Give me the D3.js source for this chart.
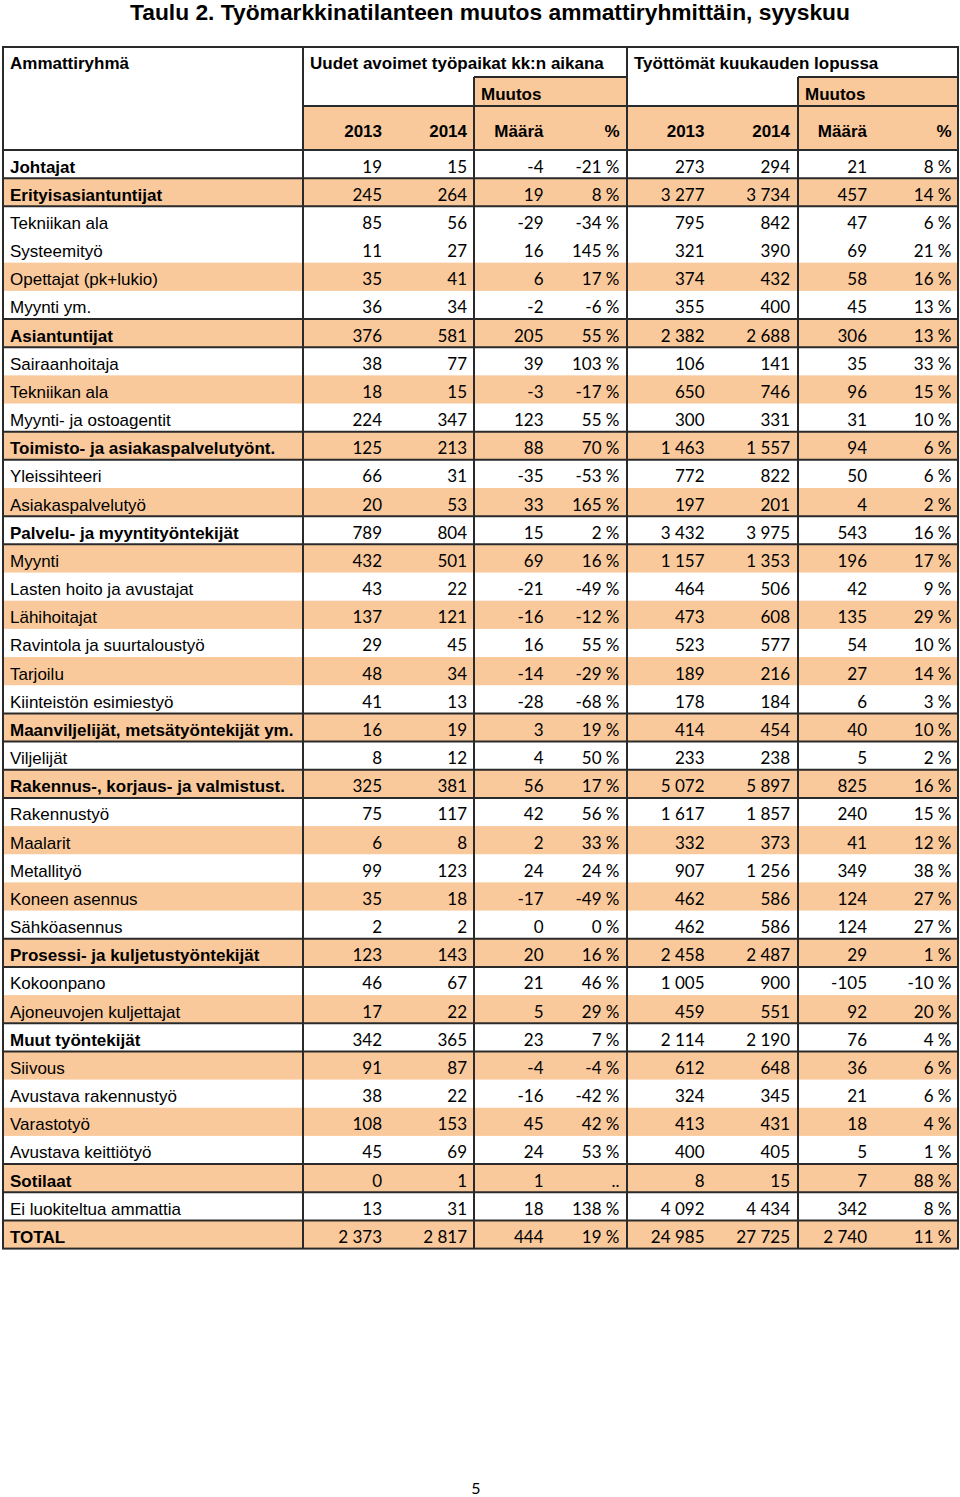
<!DOCTYPE html>
<html>
<head>
<meta charset="utf-8">
<script src="https://cdn.jsdelivr.net/npm/d3@7/dist/d3.min.js"></script>
<style>
  html, body { margin: 0; padding: 0; background: #fff; }
  svg { display: block; }
</style>
</head>
<body>
<svg id="chart" width="960" height="1497"></svg>
<script>
// ---------- DATA ----------
const title = "Taulu 2. Työmarkkinatilanteen muutos ammattiryhmittäin, syyskuu";
const pageNumber = "5";

const headerGroups = ["Uudet avoimet työpaikat kk:n aikana", "Työttömät kuukauden lopussa"];
const headerFirst = "Ammattiryhmä";
const headerChange = "Muutos";
const headerCols = ["2013", "2014", "Määrä", "%", "2013", "2014", "Määrä", "%"];

const categories = [
  "Johtajat", "Erityisasiantuntijat", "Tekniikan ala", "Systeemityö", "Opettajat (pk+lukio)",
  "Myynti ym.", "Asiantuntijat", "Sairaanhoitaja", "Tekniikan ala", "Myynti- ja ostoagentit",
  "Toimisto- ja asiakaspalvelutyönt.", "Yleissihteeri", "Asiakaspalvelutyö",
  "Palvelu- ja myyntityöntekijät", "Myynti", "Lasten hoito ja avustajat", "Lähihoitajat",
  "Ravintola ja suurtaloustyö", "Tarjoilu", "Kiinteistön esimiestyö",
  "Maanviljelijät, metsätyöntekijät ym.", "Viljelijät", "Rakennus-, korjaus- ja valmistust.",
  "Rakennustyö", "Maalarit", "Metallityö", "Koneen asennus", "Sähköasennus",
  "Prosessi- ja kuljetustyöntekijät", "Kokoonpano", "Ajoneuvojen kuljettajat",
  "Muut työntekijät", "Siivous", "Avustava rakennustyö", "Varastotyö", "Avustava keittiötyö",
  "Sotilaat", "Ei luokiteltua ammattia", "TOTAL"
];
// 0 = main group (bold), 1 = sub-group
const level = [0,0,1,1,1,1,0,1,1,1,0,1,1,0,1,1,1,1,1,1,0,1,0,1,1,1,1,1,0,1,1,0,1,1,1,1,0,1,0];

const vacancies2013 = [19,245,85,11,35,36,376,38,18,224,125,66,20,789,432,43,137,29,48,41,16,8,325,75,6,99,35,2,123,46,17,342,91,38,108,45,0,13,2373];
const vacancies2014 = [15,264,56,27,41,34,581,77,15,347,213,31,53,804,501,22,121,45,34,13,19,12,381,117,8,123,18,2,143,67,22,365,87,22,153,69,1,31,2817];
const vacanciesChange = [-4,19,-29,16,6,-2,205,39,-3,123,88,-35,33,15,69,-21,-16,16,-14,-28,3,4,56,42,2,24,-17,0,20,21,5,23,-4,-16,45,24,1,18,444];
const vacanciesPct = [-21,8,-34,145,17,-6,55,103,-17,55,70,-53,165,2,16,-49,-12,55,-29,-68,19,50,17,56,33,24,-49,0,16,46,29,7,-4,-42,42,53,null,138,19];

const unemployed2013 = [273,3277,795,321,374,355,2382,106,650,300,1463,772,197,3432,1157,464,473,523,189,178,414,233,5072,1617,332,907,462,462,2458,1005,459,2114,612,324,413,400,8,4092,24985];
const unemployed2014 = [294,3734,842,390,432,400,2688,141,746,331,1557,822,201,3975,1353,506,608,577,216,184,454,238,5897,1857,373,1256,586,586,2487,900,551,2190,648,345,431,405,15,4434,27725];
const unemployedChange = [21,457,47,69,58,45,306,35,96,31,94,50,4,543,196,42,135,54,27,6,40,5,825,240,41,349,124,124,29,-105,92,76,36,21,18,5,7,342,2740];
const unemployedPct = [8,14,6,21,16,13,13,33,15,10,6,6,2,16,17,9,29,10,14,3,10,2,16,15,12,38,27,27,1,-10,20,4,6,6,4,1,88,8,11];

// ---------- RENDER ----------
const series = [vacancies2013, vacancies2014, vacanciesChange, vacanciesPct,
                unemployed2013, unemployed2014, unemployedChange, unemployedPct];
const isPct = [false,false,false,true,false,false,false,true];

const locale = d3.formatLocale({decimal: ",", thousands: "\u00a0", grouping: [3], currency: ["", ""], minus: "-"});
const fInt = locale.format(",d");
const fmt = (v, pct) => v == null ? ".." : (pct ? fInt(v) + "\u00a0%" : fInt(v));

const ORANGE = "#FAC99B";
const LINE = "#2a2a2a";
const labelFont = "'Liberation Sans', Arial, sans-serif";
const numFont = "Lato, 'Open Sans', sans-serif";

const svg = d3.select("#chart");

const tableLeft = 3, tableRight = 958;
const tableTop = 47, h1 = 77, h2 = 106, bodyTop = 150, bodyBottom = 1248.6;
const colEdges = [303, 474, 627, 798]; // vertical separators

const y = d3.scaleBand().domain(d3.range(categories.length)).range([bodyTop, bodyBottom]).padding(0);
const colKeys = d3.range(8);
const xRight = d3.scaleOrdinal().domain(colKeys).range([382, 467, 543.5, 619.5, 704.5, 790, 867, 951.5]);

// title
svg.append("text")
  .attr("x", 490).attr("y", 20)
  .attr("text-anchor", "middle")
  .style("font-family", labelFont).style("font-weight", "bold").style("font-size", "22.8px")
  .attr("fill", "#000")
  .text(title);

// header fills
const gFill = svg.append("g");
gFill.append("rect").attr("x", colEdges[1]).attr("y", h1).attr("width", colEdges[2]-colEdges[1]).attr("height", h2-h1).attr("fill", ORANGE);
gFill.append("rect").attr("x", colEdges[3]).attr("y", h1).attr("width", tableRight-colEdges[3]).attr("height", h2-h1).attr("fill", ORANGE);
gFill.append("rect").attr("x", colEdges[0]).attr("y", h2).attr("width", tableRight-colEdges[0]).attr("height", bodyTop-h2).attr("fill", ORANGE);

// row fills
const shaded = i => i === 1 || (i >= 4 && i % 2 === 0);
gFill.selectAll("rect.row")
  .data(categories.map((c, i) => i).filter(shaded))
  .join("rect").attr("class", "row")
  .attr("x", tableLeft).attr("width", tableRight - tableLeft)
  .attr("y", i => y(i)).attr("height", y.bandwidth())
  .attr("fill", ORANGE);

// header text
const gH = svg.append("g").style("font-family", labelFont).style("font-weight", "bold").style("font-size", "17px").attr("fill", "#000");
gH.append("text").attr("x", 10).attr("y", 69).text(headerFirst);
gH.append("text").attr("x", 310).attr("y", 69).text(headerGroups[0]);
gH.append("text").attr("x", 634).attr("y", 69).text(headerGroups[1]);
gH.append("text").attr("x", 481).attr("y", 100).text(headerChange);
gH.append("text").attr("x", 805).attr("y", 100).text(headerChange);
gH.selectAll("text.col").data(headerCols).join("text").attr("class", "col")
  .attr("x", (d, i) => xRight(i)).attr("y", 136.5).attr("text-anchor", "end").text(d => d);

// row labels
const gL = svg.append("g").style("font-family", labelFont).style("font-size", "17px").attr("fill", "#000");
gL.selectAll("text").data(categories).join("text")
  .attr("x", 10).attr("y", (d, i) => y(i) + 22.5)
  .style("font-weight", (d, i) => level[i] === 0 ? "bold" : "normal")
  .text(d => d);

// numbers
const gN = svg.append("g").style("font-family", numFont).style("font-size", "17px").attr("fill", "#000");
series.forEach((s, c) => {
  gN.append("g").selectAll("text").data(s).join("text")
    .attr("x", xRight(c)).attr("y", (d, i) => y(i) + 22.5)
    .attr("text-anchor", "end")
    .text(d => fmt(d, isPct[c]));
});

// lines
const gLines = svg.append("g").attr("stroke", LINE).attr("stroke-width", 2).attr("fill", "none");
const hline = (x1, x2, yy) => gLines.append("line").attr("x1", x1).attr("x2", x2).attr("y1", yy).attr("y2", yy);
const vline = (xx, y1, y2) => gLines.append("line").attr("x1", xx).attr("x2", xx).attr("y1", y1).attr("y2", y2);

hline(colEdges[1], colEdges[2], h1);
hline(colEdges[3], tableRight, h1);
hline(colEdges[0], tableRight, h2);
hline(tableLeft, tableRight, bodyTop);
// lines around main groups
categories.forEach((c, i) => {
  if (i > 0 && (level[i] === 0 || level[i-1] === 0)) hline(tableLeft, tableRight, y(i));
});
vline(colEdges[0], tableTop, bodyBottom);
vline(colEdges[2], tableTop, bodyBottom);
vline(colEdges[1], h1, bodyBottom);
vline(colEdges[3], h1, bodyBottom);
gLines.append("rect").attr("x", tableLeft).attr("y", tableTop)
  .attr("width", tableRight - tableLeft).attr("height", bodyBottom - tableTop);

// page number
svg.append("text").attr("x", 476).attr("y", 1494).attr("text-anchor", "middle")
  .style("font-family", numFont).style("font-size", "16px").attr("fill", "#000").text(pageNumber);
</script>
</body>
</html>
